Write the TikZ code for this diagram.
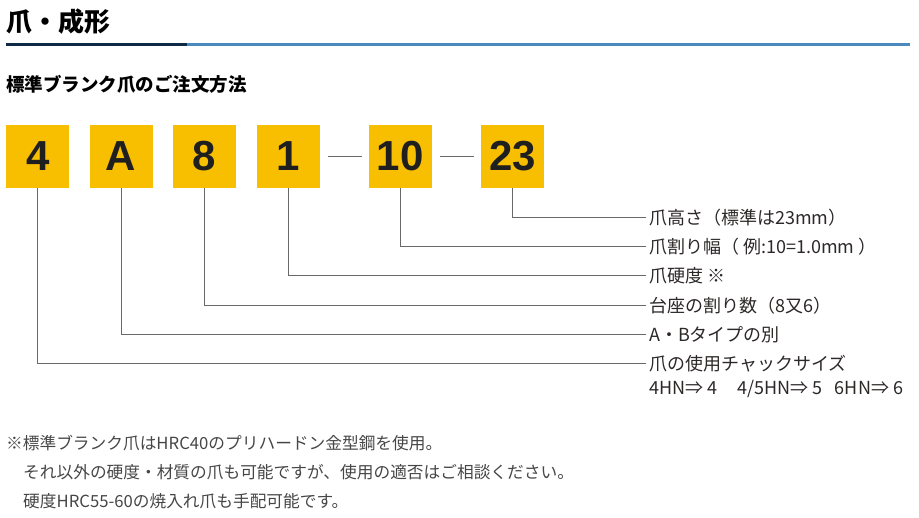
\documentclass[tikz,border=0pt]{standalone}
\usepackage{fontspec}
\setmainfont{Noto Sans CJK JP}
\newfontfamily\numfont{Liberation Sans}
\definecolor{clawyellow}{RGB}{248,190,0}
\definecolor{navyrule}{RGB}{14,42,70}
\definecolor{bluerule}{RGB}{74,138,191}
\definecolor{leadgray}{RGB}{105,105,105}
\definecolor{textgray}{RGB}{45,40,40}
\definecolor{notegray}{RGB}{70,70,70}

\begin{document}
\begin{tikzpicture}[x=1pt, y=-1pt,
    box/.style={fill=clawyellow, minimum width=63pt, minimum height=63pt, inner sep=0pt,
        font=\numfont\bfseries\fontsize{42}{42}\selectfont, text=black!88},
    lbl/.style={anchor=west, inner xsep=3pt, inner ysep=0pt, font=\fontsize{18}{22}\selectfont, text=textgray},
    note/.style={anchor=west, inner sep=0pt, font=\fontsize{16.7}{20}\selectfont, text=notegray},
    lead/.style={draw=leadgray, line width=1pt}]
    \useasboundingbox (0,0) rectangle (919,518);

    % heading
    \node [anchor=west, inner sep=0pt, font=\bfseries\fontsize{26}{30}\selectfont] (title) at (6,22) {爪・成形};
    \fill [navyrule] (6,43.5) rectangle (187,46.5);
    \fill [bluerule] (187,43.5) rectangle (910,46.5);
    \node [anchor=west, inner sep=0pt, font=\bfseries\fontsize{18.5}{22}\selectfont] (subtitle) at (6,84) {標準ブランク爪のご注文方法};

    % code boxes
    \node [box] (bchuck) at (37.7,156.5) {4};
    \node [box] (btype) at (121,156.5) {A};
    \node [box] (bbase) at (204.5,156.5) {8};
    \node [box] (bhard) at (288.3,156.5) {1};
    \node [box] (bwidth) at (400.3,156.5) {10};
    \node [box] (bheight) at (512.8,156.5) {23};
    \draw [lead, line width=1.2pt] ([xshift=8pt]bhard.east) -- ([xshift=-7pt]bwidth.west);
    \draw [lead, line width=1.2pt] ([xshift=8pt]bwidth.east) -- ([xshift=-7pt]bheight.west);

    % meanings
    \node [lbl] (lheight) at (646,217.3) {爪高さ（標準は23mm）};
    \node [lbl] (lwidth) at (646,246.3) {爪割り幅（ 例:10=1.0mm ）};
    \node [lbl] (lhard) at (646,275.7) {爪硬度 ※};
    \node [lbl] (lbase) at (646,305.3) {台座の割り数（8又6）};
    \node [lbl] (ltype) at (646,334.7) {A・Bタイプの別};
    \node [lbl] (lchuck) at (646,364) {爪の使用チャックサイズ};
    \node [lbl] (lsizes) at (646,389) {4HN⇒ 4\hspace{1.1em}4/5HN⇒ 5\hspace{0.7em}6HN⇒ 6};

    \draw [lead] (bheight.south) |- (lheight.west);
    \draw [lead] (bwidth.south) |- (lwidth.west);
    \draw [lead] (bhard.south) |- (lhard.west);
    \draw [lead] (bbase.south) |- (lbase.west);
    \draw [lead] (btype.south) |- (ltype.west);
    \draw [lead] (bchuck.south) |- (lchuck.west);

    % remarks
    \node [note] (note1) at (6,443) {※標準ブランク爪はHRC40のプリハードン金型鋼を使用。};
    \node [note] (note2) at (23,472) {それ以外の硬度・材質の爪も可能ですが、使用の適否はご相談ください。};
    \node [note] (note3) at (23,501) {硬度HRC55-60の焼入れ爪も手配可能です。};
\end{tikzpicture}
\end{document}
